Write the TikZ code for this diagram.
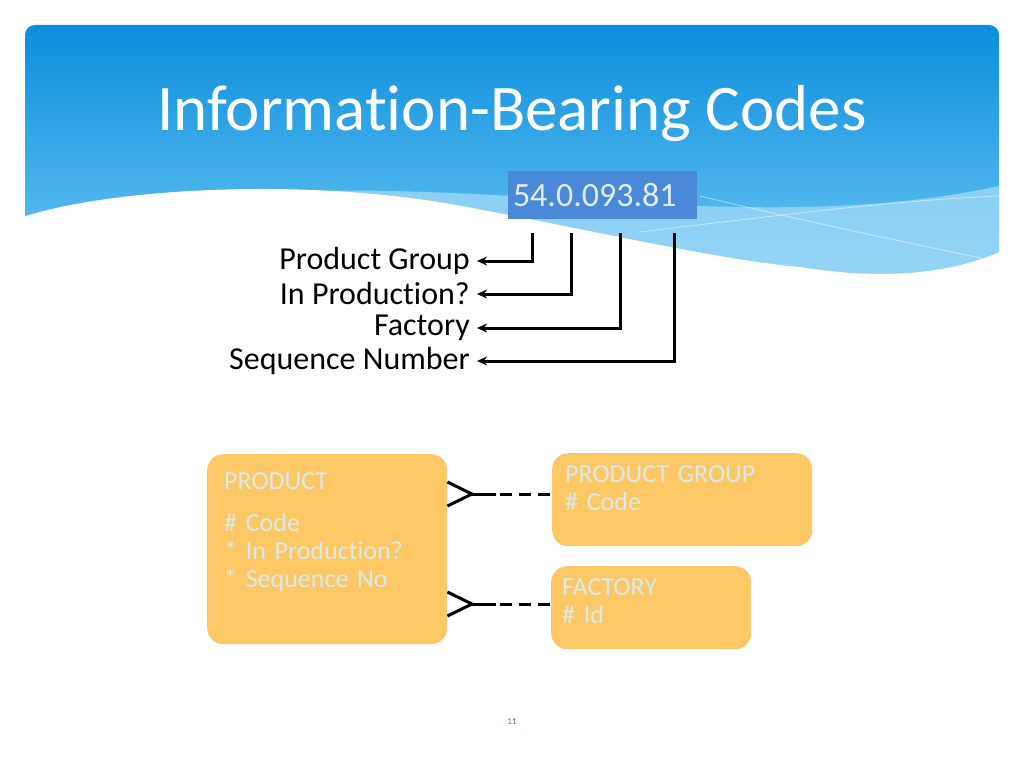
\documentclass[tikz,border=0pt]{standalone}
\usepackage{fontspec}
\setmainfont{Carlito}[Ligatures=CommonOff]
\usetikzlibrary{positioning,arrows.meta}

\definecolor{headtop}{HTML}{0B8EDC}
\definecolor{headbot}{HTML}{6CC6F4}
\definecolor{waveband}{HTML}{A3DAF8}
\definecolor{codeblue}{HTML}{4A88D8}
\definecolor{codetext}{HTML}{E2EDF8}
\definecolor{entfill}{HTML}{FCC865}
\definecolor{enttext}{HTML}{DCE9EA}
\definecolor{pagecol}{HTML}{2A78C2}

\begin{document}
\begin{tikzpicture}[x=1pt,y=-1pt,
        title/.style={anchor=base, text=white, font=\fontsize{65}{70}\selectfont, inner sep=0pt},
        codebox/.style={fill=codeblue, text=codetext, text width=179pt, align=left, inner xsep=5pt,
            minimum height=48pt, font=\fontsize{34}{36}\selectfont},
        fieldlabel/.style={anchor=east, inner sep=0pt, font=\fontsize{32}{34}\selectfont},
        pointer/.style={line width=3pt, shorten >=7pt, -{Stealth[length=10pt,width=9pt]}},
        entity/.style={fill=entfill, rounded corners=16pt, anchor=north west, align=left, text=enttext,
            font=\fontsize{26}{28}\selectfont, text height=18pt, inner xsep=13pt},
        rel/.style={line width=3pt},
        reldash/.style={line width=3pt, dash pattern=on 12pt off 7pt}
    ]
    \useasboundingbox (0,0) rectangle (1024,768);

    % header band with the wave
    \shade[top color=headtop, bottom color=headbot] (25,285) [rounded corners=10pt]-- (25,25) -- (999,25) [sharp corners]-- (999,285) -- cycle;
    \fill[waveband, opacity=0.75] (250,194) .. controls (500,176) and (760,238) .. (999,186) -- (999,285) -- (250,285) -- cycle;
    \draw[white, opacity=0.5, line width=0.8pt] (640,232) .. controls (780,215) and (900,200) .. (999,196);
    \draw[white, opacity=0.5, line width=0.8pt] (700,196) .. controls (820,225) and (920,245) .. (999,262);
    \fill[white] (20,218) .. controls (100,190) and (300,175) .. (467,207)
        .. controls (600,232) and (720,260) .. (800,267)
        .. controls (880,280) and (950,275) .. (1004,250) -- (1004,290) -- (20,290) -- cycle;

    \node[title] (title) at (512,130) {Information-Bearing Codes};

    % the code and what its parts mean
    \node[codebox] (code) at (602.5,195) {54.0.093.81};

    \node[fieldlabel] (lgroup) at (470,261) {Product Group};
    \node[fieldlabel] (lprod) at (470,294) {In Production?};
    \node[fieldlabel] (lfactory) at (470,328) {Factory};
    \node[fieldlabel] (lseq) at (470,361) {Sequence Number};

    \coordinate (d1) at (532,233);
    \coordinate (d2) at (571,233);
    \coordinate (d3) at (620,233);
    \coordinate (d4) at (674,233);

    \draw[pointer] (d1) |- (lgroup);
    \draw[pointer] (d2) |- (lprod);
    \draw[pointer] (d3) |- (lfactory);
    \draw[pointer] (d4) |- (lseq);

    % entities
    \node[entity, inner xsep=17pt, inner ysep=17pt, text width=206pt, text depth=138pt] (product) at (207,454)
        {PRODUCT\\[14pt]\# Code\\{}* In Production?\\{}* Sequence No};
    \node[entity, inner ysep=11pt, text width=234pt, text depth=53pt] (prodgroup) at (552,453)
        {PRODUCT GROUP\\\# Code};
    \node[entity, inner xsep=11pt, inner ysep=11pt, text width=178pt, text depth=43pt] (factory) at (551,566)
        {FACTORY\\\# Id};

    % relationships, crow's foot at the product end
    \coordinate (foot1) at (472,494);
    \coordinate (foot2) at (472,604);

    \draw[rel] ([yshift=12pt]product.east |- foot1) -- (foot1) -- ([yshift=-12pt]product.east |- foot1);
    \draw[rel] (foot1) -- ++(24,0) ++(4,0) coordinate (dash1);
    \draw[reldash] (dash1) -- (prodgroup.west |- foot1);

    \draw[rel] ([yshift=12pt]product.east |- foot2) -- (foot2) -- ([yshift=-12pt]product.east |- foot2);
    \draw[rel] (foot2) -- ++(24,0) ++(4,0) coordinate (dash2);
    \draw[reldash] (dash2) -- (factory.west |- foot2);

    \node[text=pagecol, font=\fontsize{9}{10}\selectfont] (pagenum) at (512,722) {11};
\end{tikzpicture}
\end{document}
